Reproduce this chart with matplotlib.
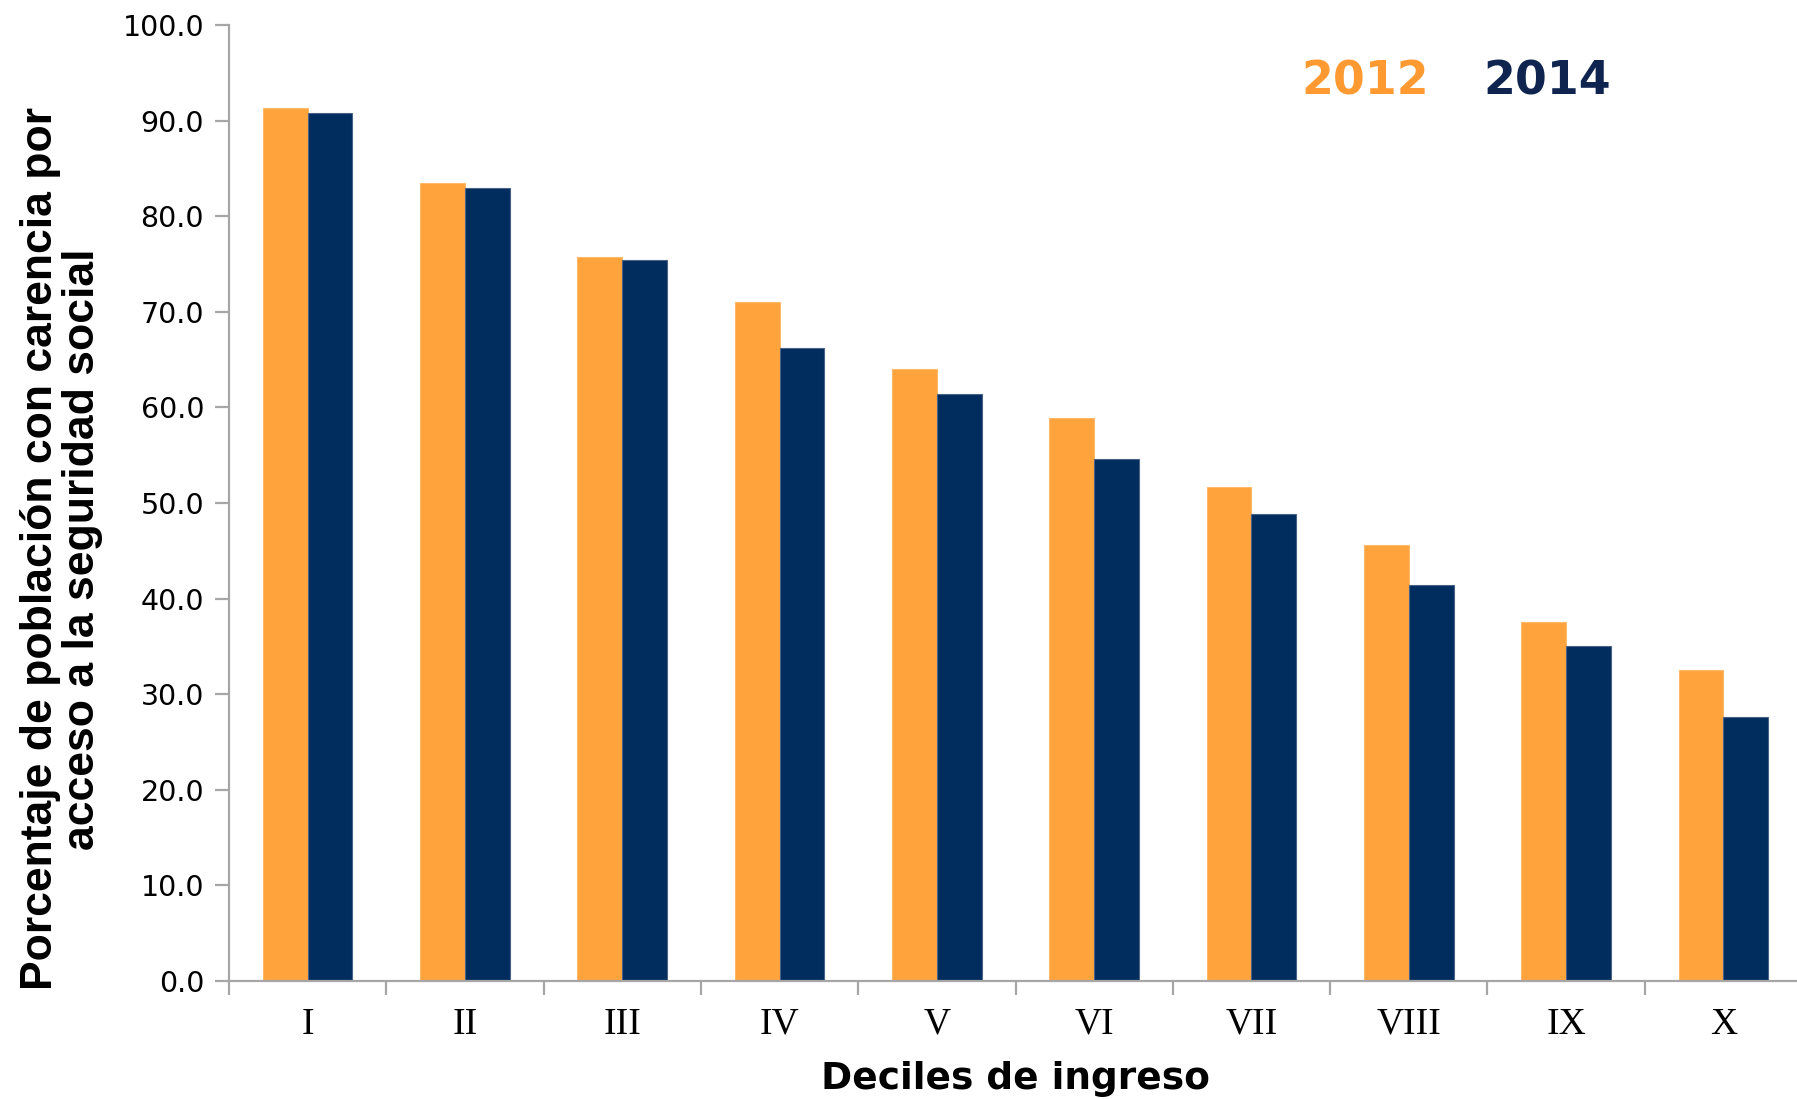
import numpy as np
import matplotlib
matplotlib.use("Agg")
import matplotlib.pyplot as plt

# Porcentaje de poblacion con carencia por acceso a la seguridad social
deciles = ["I", "II", "III", "IV", "V", "VI", "VII", "VIII", "IX", "X"]
values_2012 = [91.3, 83.5, 75.7, 71.0, 64.0, 58.9, 51.7, 45.6, 37.6, 32.5]
values_2014 = [90.8, 83.0, 75.4, 66.2, 61.4, 54.6, 48.9, 41.4, 35.0, 27.6]
years = ["2012", "2014"]

orange = "#FFA33D"
navy = "#002D5E"
axis_gray = "#A6A6A6"

fig = plt.figure(figsize=(17.97, 10.99), dpi=100)
ax = fig.add_axes([229 / 1797, 1 - 981 / 1099, 1573 / 1797, 956 / 1099])

x = np.arange(len(deciles))
w = 0.285
ax.bar(x - w / 2, values_2012, width=w, color=orange, edgecolor="#FFB96A", linewidth=0.8)
ax.bar(x + w / 2, values_2014, width=w, color=navy, edgecolor="#4A6384", linewidth=0.8)

ax.set_xlim(-0.5, len(deciles) - 0.5)
ax.set_ylim(0, 100)

for side in ["top", "right"]:
    ax.spines[side].set_visible(False)
for side in ["left", "bottom"]:
    ax.spines[side].set_color(axis_gray)
    ax.spines[side].set_linewidth(1.6)

# y axis
ax.set_yticks(np.arange(0, 101, 10))
ax.set_yticklabels([f"{v:.1f}" for v in np.arange(0, 101, 10)], fontsize=20.5)
ax.tick_params(axis="y", direction="out", length=10, width=1.6, color=axis_gray, pad=8)

# x axis: ticks at category boundaries, labels at centers
ax.set_xticks(np.arange(-0.5, len(deciles), 1.0))
ax.set_xticklabels([])
ax.tick_params(axis="x", which="major", direction="out", length=10, width=1.6, color=axis_gray)
ax.set_xticks(x, minor=True)
ax.set_xticklabels(deciles, minor=True, fontsize=27, family="Liberation Serif")
ax.tick_params(axis="x", which="minor", length=0, pad=19)

ax.set_xlabel("Deciles de ingreso", fontsize=27, fontweight="bold", labelpad=14)
ax.set_ylabel("Porcentaje de población con carencia por\nacceso a la seguridad social",
              fontsize=32, fontweight="bold", family="Liberation Sans",
              linespacing=1.05)
ax.yaxis.set_label_coords(-0.08, 0.452)

fig.text(1365 / 1797, 1 - 82 / 1099, years[0], color="#FF9A33", fontsize=33,
         fontweight="bold", ha="center", va="center")
fig.text(1547 / 1797, 1 - 82 / 1099, years[1], color="#0F2550", fontsize=33,
         fontweight="bold", ha="center", va="center")

fig.savefig("out.png", dpi=100)
